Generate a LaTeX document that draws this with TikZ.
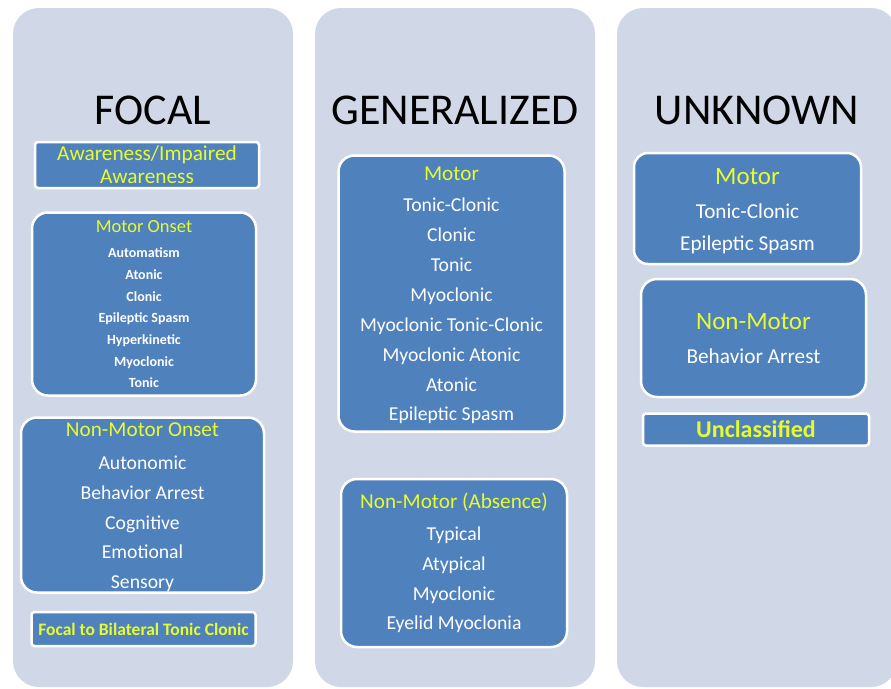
\documentclass[tikz,border=0pt]{standalone}
\usepackage{fontspec}
\setmainfont{Carlito}
\definecolor{panelgray}{RGB}{208,216,232}
\definecolor{boxblue}{RGB}{79,129,189}
\definecolor{titleyellow}{RGB}{232,252,45}

\begin{document}
\begin{tikzpicture}[x=1pt,y=-1pt]
    \tikzset{panel/.style = {shape=rectangle, rounded corners=26pt, fill=panelgray, minimum width=280pt, minimum height=679pt}}
    \tikzset{group/.style = {shape=rectangle, rounded corners=16pt, draw=white, line width=2.5pt, fill=boxblue}}
    \tikzset{bar/.style = {group, rounded corners=3pt, text=titleyellow, align=center}}
    \tikzset{head/.style = {font=\fontsize{44}{52}\selectfont}}
    \tikzset{title/.style = {text=titleyellow, align=center}}
    \tikzset{items/.style = {text=white, align=center}}

    \clip (0,0) rectangle (891,688);
    \fill[white] (0,0) rectangle (891,688);

    % panels
    \node[panel] (focal) at (153,347.5) {};
    \node[panel] (gen) at (455,347.5) {};
    \node[panel] (unk) at (757,347.5) {};

    % headers
    \node[head] (focalhead) at (153,110) {FOCAL};
    \node[head] (genhead) at (455,110) {GENERALIZED};
    \node[head] (unkhead) at (757,110) {UNKNOWN};

    % focal
    \node[bar, minimum width=224pt, minimum height=46pt, font=\fontsize{21.3}{23.3}\selectfont] (aware) at (147,165) {Awareness/Impaired\\Awareness};
    \node[group, minimum width=224pt, minimum height=183pt] (motonset) at (144,304) {};
    \node[title, font=\fontsize{18.5}{22}\selectfont] (motonsettitle) at (144,227) {Motor Onset};
    \node[items, font=\bfseries\fontsize{14}{21.7}\selectfont] (motonsetitems) at (144,318) {Automatism\\Atonic\\Clonic\\Epileptic Spasm\\Hyperkinetic\\Myoclonic\\Tonic};
    \node[group, minimum width=243pt, minimum height=175pt] (nmonset) at (142.5,505) {};
    \node[title, font=\fontsize{21.2}{24}\selectfont] (nmonsettitle) at (142.5,430) {Non-Motor Onset};
    \node[items, font=\fontsize{19.7}{29.7}\selectfont] (nmonsetitems) at (142.5,524) {Autonomic\\Behavior Arrest\\Cognitive\\Emotional\\Sensory};
    \node[bar, minimum width=224pt, minimum height=34pt, font=\bfseries\fontsize{17.5}{20}\selectfont] (bilateral) at (143.5,629) {Focal to Bilateral Tonic Clonic};

    % generalized
    \node[group, minimum width=226pt, minimum height=276pt] (genmotor) at (451.5,293.5) {};
    \node[title, font=\fontsize{21.2}{24}\selectfont] (genmotortitle) at (451.5,173.5) {Motor};
    \node[items, font=\fontsize{19.7}{29.9}\selectfont] (genmotoritems) at (451.5,311) {Tonic-Clonic\\Clonic\\Tonic\\Myoclonic\\Myoclonic Tonic-Clonic\\Myoclonic Atonic\\Atonic\\Epileptic Spasm};
    \node[group, minimum width=226pt, minimum height=168pt] (genabs) at (454,563) {};
    \node[title, font=\fontsize{21.2}{24}\selectfont] (genabstitle) at (454,502) {Non-Motor (Absence)};
    \node[items, font=\fontsize{19.7}{29.7}\selectfont] (genabsitems) at (454,580) {Typical\\Atypical\\Myoclonic\\Eyelid Myoclonia};

    % unknown
    \node[group, minimum width=227pt, minimum height=111pt, rounded corners=14pt] (unkmotor) at (747.5,208.5) {};
    \node[title, font=\fontsize{25}{28}\selectfont] (unkmotortitle) at (747.5,176.5) {Motor};
    \node[items, font=\fontsize{21.2}{32.5}\selectfont] (unkmotoritems) at (747.5,229) {Tonic-Clonic\\Epileptic Spasm};
    \node[group, minimum width=225pt, minimum height=118pt] (unknonmotor) at (753.5,338) {};
    \node[title, font=\fontsize{25}{28}\selectfont] (unknonmotortitle) at (753.5,322) {Non-Motor};
    \node[items, font=\fontsize{21.3}{25}\selectfont] (unkarrest) at (753.5,356.5) {Behavior Arrest};
    \node[bar, minimum width=226pt, minimum height=32pt, font=\bfseries\fontsize{24}{28}\selectfont] (unclass) at (756,429.5) {Unclassified};
\end{tikzpicture}
\end{document}
